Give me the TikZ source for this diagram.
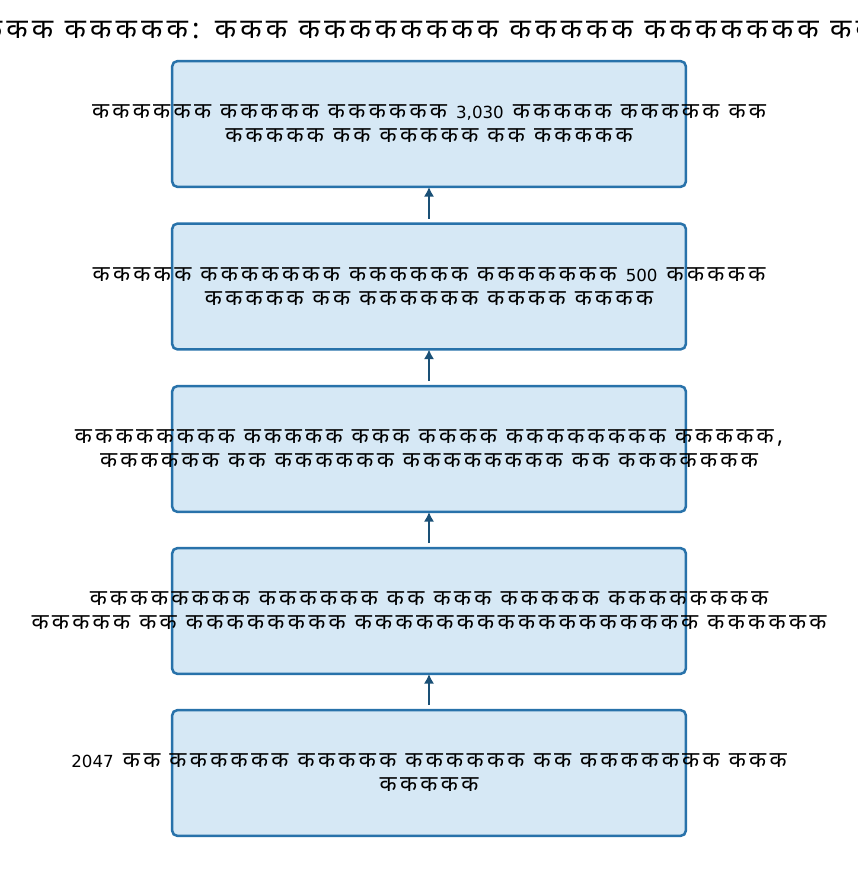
\documentclass[tikz,border=0pt]{standalone}
\usepackage{fontspec}
\setmainfont{DejaVu Sans}
\newfontfamily\hindi[Script=Devanagari,LetterSpace=15]{Noto Sans}
\usetikzlibrary{arrows.meta,positioning}
\definecolor{stageblue}{RGB}{40,114,170}
\definecolor{stagefill}{RGB}{214,232,245}
\definecolor{flowblue}{RGB}{26,80,118}
\newcommand{\digits}[1]{{\normalfont\fontsize{12}{17.3}\selectfont #1}}

\begin{document}
\begin{tikzpicture}[x=0.72pt,y=-0.72pt,
  stage/.style={draw=stageblue,fill=stagefill,line width=1.8pt,rounded corners=4pt,
                minimum width=370pt,minimum height=90.7pt,inner sep=0pt,outer sep=0pt},
  stagetext/.style={font=\hindi\fontsize{16}{17.3}\selectfont,align=center,inner sep=0pt},
  flow/.style={draw=flowblue,line width=1.8pt,-{Latex[length=7pt,width=7.5pt]}}
]
  \useasboundingbox (0,0) rectangle (858,877);
  \node[font=\hindi\bfseries\fontsize{20}{22}\selectfont] (title) at (429,30)
    {ककक ककककक: ककक कककककककक ककककक ककककककक कक};

  % stages, bottom one first in time
  \node[stage] (s1) at (429,124) {};
  \node[stage] (s2) at (429,286.5) {};
  \node[stage] (s3) at (429,449) {};
  \node[stage] (s4) at (429,611) {};
  \node[stage] (s5) at (429,773) {};

  \node[stagetext] (t1) at (s1.center)
    {कककककक ककककक कककककक \digits{3,030} ककककक ककककक कक\\ककककक कक ककककक कक ककककक};
  \node[stagetext] (t2) at (s2.center)
    {ककककक ककककककक कककककक ककककककक \digits{500} ककककक\\ककककक कक कककककक कककक कककक};
  \node[stagetext] (t3) at (s3.center)
    {कककककककक ककककक ककक कककक कककककककक ककककक,\\कककककक कक कककककक कककककककक कक ककककककक};
  \node[stagetext] (t4) at (s4.center)
    {कककककककक कककककक कक ककक ककककक कककककककक\\ककककक कक कककककककक ककककककककककककककककक कककककक};
  \node[stagetext] (t5) at (s5.center)
    {\digits{2047} कक कककककक ककककक कककककक कक ककककककक ककक\\ककककक};

  \foreach \a/\b in {s5/s4,s4/s3,s3/s2,s2/s1}
    \draw[flow] ([yshift=3.6pt]\a.north) -- (\b.south);
\end{tikzpicture}
\end{document}
